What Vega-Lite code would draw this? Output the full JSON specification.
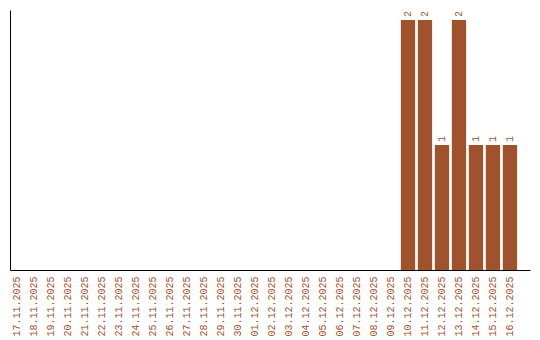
{
  "$schema": "https://vega.github.io/schema/vega-lite/v6.json",
  "width": 520,
  "height": 260,
  "autosize": {"type": "none"},
  "padding": {"left": 10, "top": 10, "right": 10, "bottom": 70},
  "background": "white",
  "config": {"view": {"stroke": null}},
  "data": {"values": [
    {"date": "17.11.2025", "count": 0},
    {"date": "18.11.2025", "count": 0},
    {"date": "19.11.2025", "count": 0},
    {"date": "20.11.2025", "count": 0},
    {"date": "21.11.2025", "count": 0},
    {"date": "22.11.2025", "count": 0},
    {"date": "23.11.2025", "count": 0},
    {"date": "24.11.2025", "count": 0},
    {"date": "25.11.2025", "count": 0},
    {"date": "26.11.2025", "count": 0},
    {"date": "27.11.2025", "count": 0},
    {"date": "28.11.2025", "count": 0},
    {"date": "29.11.2025", "count": 0},
    {"date": "30.11.2025", "count": 0},
    {"date": "01.12.2025", "count": 0},
    {"date": "02.12.2025", "count": 0},
    {"date": "03.12.2025", "count": 0},
    {"date": "04.12.2025", "count": 0},
    {"date": "05.12.2025", "count": 0},
    {"date": "06.12.2025", "count": 0},
    {"date": "07.12.2025", "count": 0},
    {"date": "08.12.2025", "count": 0},
    {"date": "09.12.2025", "count": 0},
    {"date": "10.12.2025", "count": 2},
    {"date": "11.12.2025", "count": 2},
    {"date": "12.12.2025", "count": 1},
    {"date": "13.12.2025", "count": 2},
    {"date": "14.12.2025", "count": 1},
    {"date": "15.12.2025", "count": 1},
    {"date": "16.12.2025", "count": 1}
  ]},
  "encoding": {
    "x": {
      "field": "date", "type": "nominal", "sort": null, "title": null,
      "scale": {"paddingInner": 0.16, "paddingOuter": 0.38, "align": 0},
      "axis": {
        "labelAngle": -90, "labelAlign": "right", "labelBaseline": "middle",
        "labelFont": "Liberation Mono", "labelFontSize": 10, "labelColor": "#a0522d",
        "ticks": false, "tickSize": 0, "labelPadding": 6,
        "domainColor": "black", "domainWidth": 1, "grid": false
      }
    },
    "y": {
      "field": "count", "type": "quantitative", "title": null,
      "scale": {"domain": [0, 2.08], "nice": false, "zero": true},
      "axis": {"labels": false, "ticks": false, "grid": false, "domainColor": "black", "domainWidth": 1}
    }
  },
  "layer": [
    {"mark": {"type": "bar", "color": "#a0522d"}},
    {
      "transform": [{"filter": "datum.count > 0"}],
      "mark": {"type": "text", "angle": -90, "align": "left", "baseline": "middle", "dx": 3,
               "font": "Liberation Mono", "fontSize": 10, "color": "#a0522d"},
      "encoding": {"text": {"field": "count", "type": "quantitative"}}
    }
  ]
}
